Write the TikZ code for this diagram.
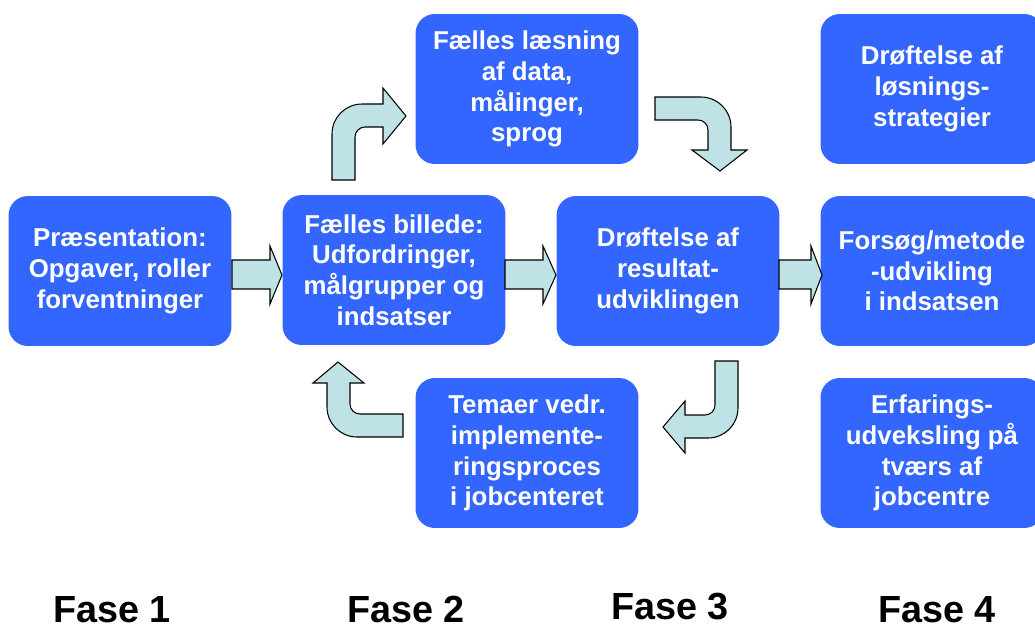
\documentclass[tikz,border=0pt]{standalone}
\usepackage{fontspec}
\setmainfont{Liberation Sans}
\definecolor{boxblue}{RGB}{51,102,255}
\definecolor{pilfyld}{RGB}{190,226,229}

\begin{document}
\begin{tikzpicture}[x=0.02cm, y=-0.02cm,
        trin/.style={fill=boxblue, rounded corners=11pt, minimum width=4.46cm, minimum height=3cm,
            inner sep=0pt, align=center, text=white, font=\fontsize{14.7}{17.5}\selectfont\bfseries},
        blk/.style={draw=black, line width=0.6pt, fill=pilfyld, line join=miter},
        fasetekst/.style={font=\fontsize{21.5}{24}\selectfont\bfseries, anchor=base}]

        \useasboundingbox (0,0) rectangle (1035,630);

        % The process boxes
        \node[trin] (pres) at (120,271) {Præsentation:\\Opgaver, roller\\forventninger};
        \node[trin] (billede) at (394,270) {Fælles billede:\\Udfordringer,\\målgrupper og\\indsatser};
        \node[trin] (laesning) at (527,89) {Fælles læsning\\af data,\\målinger,\\sprog};
        \node[trin] (resultat) at (668,271) {Drøftelse af\\resultat-\\udviklingen};
        \node[trin] (temaer) at (527,453) {Temaer vedr.\\implemente-\\ringsproces\\i jobcenteret};
        \node[trin] (loesning) at (932,89) {Drøftelse af\\løsnings-\\strategier};
        \node[trin] (forsoeg) at (932,271) {Forsøg/metode\\-udvikling\\i indsatsen};
        \node[trin] (erfaring) at (932,453) {Erfarings-\\udveksling på\\tværs af\\jobcentre};

        % Straight block arrows
        \draw[blk] (232,260) -- (270,260) -- (270,246) -- (282,275) -- (270,304) -- (270,289) -- (232,289) -- cycle;
        \draw[blk] (505,260) -- (543,260) -- (543,246) -- (556,275) -- (543,304) -- (543,289) -- (505,289) -- cycle;
        \draw[blk] (779,260) -- (811,260) -- (811,246) -- (822,275) -- (811,304) -- (811,289) -- (779,289) -- cycle;

        % Bent block arrows round the loop
        \draw[blk] (332,180) -- (332,134) arc[start angle=180, end angle=270, radius=30] -- (383,104) -- (383,88)
            -- (406,116) -- (383,144) -- (383,127) -- (365,127) arc[start angle=270, end angle=180, radius=10] -- (355,180) -- cycle;
        \draw[blk] (655,97) -- (701,97) arc[start angle=270, end angle=360, radius=30] -- (731,150) -- (747,150)
            -- (720,171) -- (692,150) -- (708,150) -- (708,130) arc[start angle=0, end angle=-90, radius=10] -- (655,120) -- cycle;
        \draw[blk] (715,361) -- (738,361) -- (738,408) arc[start angle=0, end angle=90, radius=30] -- (685,438) -- (685,453)
            -- (663,427) -- (685,401) -- (685,415) -- (705,415) arc[start angle=90, end angle=0, radius=10] -- cycle;
        \draw[blk] (403,414) -- (403,437) -- (357,437) arc[start angle=90, end angle=180, radius=30] -- (327,383) -- (313,383)
            -- (338,362) -- (364,383) -- (350,383) -- (350,404) arc[start angle=180, end angle=90, radius=10] -- cycle;

        % Phase labels
        \node[fasetekst] (fase1) at (112,622) {Fase 1};
        \node[fasetekst] (fase2) at (406,622) {Fase 2};
        \node[fasetekst] (fase3) at (670,619) {Fase 3};
        \node[fasetekst] (fase4) at (937,622) {Fase 4};
\end{tikzpicture}
\end{document}
